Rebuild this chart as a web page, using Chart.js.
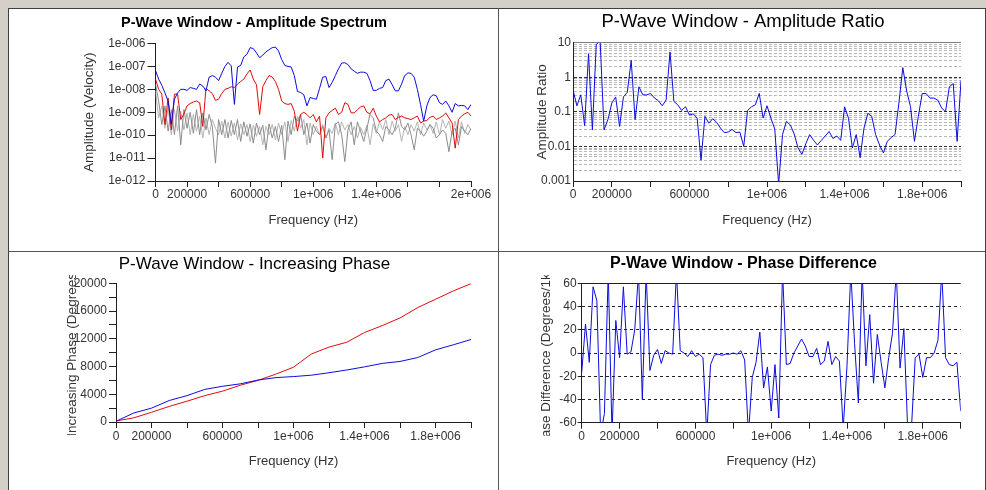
<!DOCTYPE html>
<html>
<head>
<meta charset="utf-8">
<script src="https://cdn.jsdelivr.net/npm/chart.js@4"></script>
<style>
  body { margin: 0; width: 986px; height: 490px; overflow: hidden; position: relative; background: #d4d0c8; }
  #frame { position: absolute; left: 8px; top: 8px; width: 978px; height: 490px; box-sizing: border-box;
           background: #fff; border-top: 1px solid #404040; border-left: 1px solid #404040; border-right: 1px solid #404040; }
  .vline { position: absolute; left: 498px; top: 8px; width: 1px; height: 482px; background: #555; }
  .hline { position: absolute; left: 8px; top: 251px; width: 977px; height: 1px; background: #555; }
  canvas { position: absolute; }
</style>
</head>
<body>
<div id="frame"></div>
<div class="vline"></div>
<div class="hline"></div>
<canvas id="spectrum" width="488" height="242" style="left:9px;top:9px"></canvas>
<canvas id="ratio" width="486" height="242" style="left:499px;top:9px"></canvas>
<canvas id="phase" width="488" height="238" style="left:9px;top:252px"></canvas>
<canvas id="difference" width="486" height="238" style="left:499px;top:252px"></canvas>
<script>
// frequency samples (kHz)
const freqKHz = [0,20,40,60,80,100,120,140,160,180,200,220,240,260,280,300,320,340,360,380,
  400,420,440,460,480,500,520,540,560,580,600,620,640,660,680,700,720,740,760,780,
  800,820,840,860,880,900,920,940,960,980,1000,1020,1040,1060,1080,1100,1120,1140,1160,1180,
  1200,1220,1240,1260,1280,1300,1320,1340,1360,1380,1400,1420,1440,1460,1480,1500,1520,1540,1560,1580,
  1600,1620,1640,1660,1680,1700,1720,1740,1760,1780,1800,1820,1840,1860,1880,1900,1920,1940,1960,1980,2000];

const specBlue = [6.6e-8,2.8e-8,1.5e-8,7e-9,3e-9,3e-10,3.7e-9,7e-9,1e-8,1e-8,
  9e-9,1.2e-8,1.1e-8,1e-8,1.7e-8,1.4e-8,8.6e-9,3.4e-8,4e-8,3.4e-8,
  2.4e-8,5e-8,1e-7,1.5e-7,1.05e-7,2.2e-9,9.4e-8,1.1e-7,2.6e-7,3.4e-7,
  6.6e-7,6e-7,3.9e-7,2.4e-7,3.1e-7,4.3e-7,5.4e-7,6.6e-7,7e-7,4.7e-7,
  2e-7,1.1e-7,1e-7,9.4e-8,4e-8,8e-9,7.3e-9,5.8e-9,1.9e-9,4.4e-9,
  4e-9,3.7e-9,1.1e-8,3.4e-8,3.6e-8,1.2e-8,2e-8,4e-8,7.8e-8,1.4e-7,
  1.45e-7,1.2e-7,7.8e-8,6.2e-8,5e-8,5.6e-8,5.6e-8,5e-8,2.4e-8,9e-9,
  9e-9,1.1e-8,1.2e-8,2.4e-8,2.8e-8,1.6e-8,8.6e-9,8.6e-9,1.7e-8,4e-8,
  5.2e-8,5e-8,3.4e-8,1e-8,2.2e-9,4.1e-10,1.9e-9,4.4e-9,5.8e-9,5.2e-9,
  2.6e-9,2.2e-9,3.1e-9,1.9e-9,1e-9,2.4e-9,1.9e-9,2e-9,1.9e-9,1.3e-9,2.2e-9];

const specRed = [2.8e-8,1e-8,6.2e-9,2.9e-10,4.2e-9,1.7e-10,6.2e-9,6.2e-9,4.8e-10,8.5e-10,
  1.9e-9,2.4e-9,2.8e-9,3.1e-9,2.6e-9,2.4e-10,1.1e-8,8.6e-9,6.6e-9,3.3e-9,
  3.7e-9,6.6e-9,1e-8,1.1e-8,1.3e-8,1.2e-8,1.7e-8,2.2e-8,2.8e-8,4.7e-8,
  7e-8,2.8e-8,1.6e-8,8e-10,1.3e-8,2.4e-8,4e-8,3.4e-8,2.2e-8,1e-8,
  3.1e-9,2.4e-9,2.2e-9,2.4e-9,1.1e-9,1.5e-10,8e-10,1e-9,8e-10,5.7e-10,
  8e-10,3.8e-10,6.8e-10,1e-11,5.7e-10,9.4e-10,1.2e-9,1.5e-9,8e-10,1e-9,
  2.6e-9,2.2e-9,9.4e-10,9.4e-10,1.3e-9,1.7e-9,1.9e-9,1e-9,8.5e-10,1.5e-9,
  6.8e-10,3.8e-10,4.8e-10,5.7e-10,7.5e-10,8e-10,4.8e-10,6e-10,6.8e-10,5.7e-10,
  5.3e-10,4.8e-10,5.7e-10,6.8e-10,3.4e-10,4.1e-10,4.4e-10,6e-10,6.8e-10,4.8e-10,
  5.7e-10,6.8e-10,9.4e-10,5.7e-10,3.4e-10,2.7e-11,4.8e-10,6.8e-10,8.5e-10,1e-9,6.8e-10];

const specGreyA = [1.7e-8,3.1e-9,2.9e-10,1.9e-9,1.5e-10,1.3e-9,1.05e-10,1.9e-9,3.8e-11,1.3e-9,
  2e-10,1e-9,1.2e-10,1.3e-9,1.05e-10,9.4e-10,1.7e-10,8e-10,2.4e-10,6e-12,
  4.8e-10,1.05e-10,4.8e-10,7.5e-11,4.4e-10,1.05e-10,4.8e-10,5.3e-11,3.8e-10,9e-11,
  3.1e-10,4.5e-11,3.4e-10,1.05e-10,2.7e-10,2.3e-11,3.1e-10,7.5e-11,2.4e-10,5.3e-11,
  2.7e-10,8.5e-12,4.1e-10,1.05e-10,6.8e-10,4.1e-10,8e-10,1.05e-10,3.4e-10,4.5e-11,
  2.9e-10,1.5e-10,1.05e-10,2.4e-10,7.5e-11,1.7e-10,8.5e-12,2.9e-10,3.8e-10,1.05e-10,
  7e-12,1.7e-10,3.8e-10,3.8e-11,3.8e-10,1.5e-10,5.3e-11,2e-10,8e-10,5.7e-10,
  1.5e-10,1.05e-10,5.3e-11,2.4e-10,1.7e-10,1.05e-10,2e-10,9.4e-10,2.4e-10,1.7e-10,
  3.4e-10,1.05e-10,2.3e-11,2e-10,1.5e-10,9e-11,1.5e-10,2.9e-10,2e-10,7.5e-11,
  1.05e-10,1.7e-10,1.2e-10,1.9e-11,1.5e-10,2e-10,3.8e-11,2.4e-10,1.5e-10,1.05e-10,2e-10];

const specGreyB = [8.6e-9,5.7e-10,1.9e-9,2e-10,1.6e-9,1.05e-10,1.3e-9,1.5e-10,1.1e-9,1.7e-10,
  9.4e-10,1.05e-10,8e-10,1.5e-10,6.8e-10,7.5e-11,5.7e-10,1.05e-10,4.8e-10,2e-10,
  1.05e-10,4.1e-10,7.5e-11,3.8e-10,9e-11,3.4e-10,6.3e-11,3.1e-10,1.05e-10,2.9e-10,
  5.3e-11,2.7e-10,9e-11,2.4e-10,3.8e-11,2.4e-10,1.05e-10,2.9e-10,6.3e-11,3.4e-10,
  1.05e-10,3.8e-10,5.3e-11,4.4e-10,1.5e-10,6.8e-10,2e-10,4.8e-10,3.8e-11,3.4e-10,
  1.05e-10,2.4e-10,1.05e-10,2.9e-10,7.5e-11,2e-10,1.2e-10,3.4e-10,1.05e-10,3.8e-10,
  1.7e-10,2.9e-10,1.05e-10,2.4e-10,7.5e-11,2.2e-10,1.05e-10,2.7e-10,3.8e-11,3.1e-10,
  1.2e-10,3.8e-10,1.7e-10,4.8e-10,1.05e-10,4.1e-10,1.5e-10,2.9e-10,5.3e-11,2.4e-10,
  1.05e-10,2.9e-10,1.5e-10,3.8e-10,1.05e-10,3.4e-10,1.7e-10,2.9e-10,1.2e-10,3.8e-10,
  1.05e-10,4.8e-10,2e-10,4.1e-10,1.05e-10,4.1e-10,7.5e-11,3.8e-10,1.2e-10,2.9e-10,1.7e-10];

const ampRatio = [0.43,0.15,0.31,0.04,4.8,0.03,9,11,0.03,0.06,
  0.18,0.27,0.038,0.27,0.37,3.1,0.06,0.53,0.31,0.31,
  0.34,0.25,0.21,0.15,0.22,5.4,0.2,0.16,0.11,0.14,
  0.081,0.087,0.066,0.004,0.074,0.047,0.063,0.05,0.034,0.025,
  0.026,0.031,0.025,0.026,0.01,0.11,0.14,0.16,0.34,0.066,
  0.15,0.066,0.032,0.0008,0.022,0.053,0.042,0.023,0.009,0.0059,
  0.012,0.022,0.015,0.011,0.015,0.02,0.027,0.017,0.02,0.015,
  0.14,0.066,0.009,0.022,0.0047,0.034,0.091,0.074,0.022,0.011,
  0.0065,0.014,0.018,0.022,0.18,1.9,0.4,0.14,0.014,0.074,
  0.34,0.34,0.25,0.25,0.22,0.13,0.1,0.53,0.66,0.014,0.8];

const phaseDiff = [-17,25,-8,57,45,-70,-52,70,-70,28,
  -4,57,-1,1,20,70,-40,70,-15,-2,
  3,-9,2,0,-1,70,2,0,-3,2,
  -3,-1,-4,-70,-10,-2,-1,-2,-1,-1,
  0,-1,2,-6,-70,-21,-8,18,-30,-12,
  -50,-10,-56,70,-10,-9,0,6,12,6,
  -3,-3,4,-10,-7,10,-10,-3,-7,-65,
  -11,70,8,-43,70,-11,33,-26,16,-8,
  -30,-4,17,70,-13,21,-65,-65,-4,-1,
  -21,-4,-4,0,11,70,-4,-10,-11,-8,-50];

// increasing phase, sampled every 100 kHz
const phaseKHz = [0,100,200,300,400,500,600,700,800,900,1000,1100,1200,1300,1400,1500,1600,1700,1800,1900,2000];
const phaseRed = [150,600,1400,2250,3000,3800,4450,5300,6000,6900,7900,9800,10800,11500,12900,13900,15000,16500,17700,18900,19950];
const phaseBlue = [100,1300,2000,3100,3800,4700,5150,5500,6050,6400,6550,6750,7100,7500,7950,8450,8730,9300,10400,11130,11900];

// axis ticks
const freqTicks = [0,200000,400000,600000,800000,1000000,1200000,1400000,1600000,1800000,2000000];
const freqLabels = ['0','200000','','600000','','1e+006','','1.4e+006','','1.8e+006',''];
const freqLabelsSpectrum = ['0','200000','','600000','','1e+006','','1.4e+006','','','2e+006'];
const specTicks = [1e-12,1e-11,1e-10,1e-9,1e-8,1e-7,1e-6];
const specTickLabels = ['1e-012','1e-011','1e-010','1e-009','1e-008','1e-007','1e-006'];
const ratioTicks = [0.001,0.01,0.1,1,10];
const ratioTickLabels = ['0.001','0.01','0.1','1','10'];
const phaseTicks = [0,2000,4000,6000,8000,10000,12000,14000,16000,18000,20000];
const phaseTickLabels = ['0','','4000','','8000','','12000','','16000','','20000'];
const diffTicks = [-60,-40,-20,0,20,40,60];
const diffTickLabels = ['-60','-40','-20','0','20','40','60'];

const blue = 'rgb(12,12,222)';
const red = 'rgb(222,12,12)';
const axisColor = '#202020';
const labelColor = '#333333';

Chart.defaults.font.family = '"Liberation Sans", Arial, sans-serif';
Chart.defaults.animation = false;
Chart.defaults.events = [];

// the original clips long y-axis titles near the plot height
const clipYTitle = {
  id: 'clipYTitle',
  afterLayout(chart) {
    const scale = chart.scales.y;
    if (scale.clipPatched) return;
    const drawTitle = scale.drawTitle;
    scale.drawTitle = function () {
      const a = chart.chartArea;
      const ctx = chart.ctx;
      ctx.save();
      ctx.beginPath();
      ctx.rect(0, a.top - 8, a.left, a.bottom - a.top + 21);
      ctx.clip();
      drawTitle.call(this);
      ctx.restore();
    };
    scale.clipPatched = true;
  }
};

function series(xs, ys, color) {
  return {
    data: xs.map((x, i) => ({ x: x * 1000, y: ys[i] })),
    borderColor: color,
    borderWidth: 1,
    pointRadius: 0,
    tension: 0,
    fill: false
  };
}

function isDecade(v) {
  const l = Math.log10(v);
  return Math.abs(l - Math.round(l)) < 1e-9;
}

function freqAxis(labels, height, titlePad, tickPad) {
  return {
    type: 'linear', min: 0, max: 2000000,
    afterBuildTicks: (axis) => { axis.ticks = freqTicks.map(v => ({ value: v })); },
    afterFit: (axis) => { axis.height = height; },
    grid: { drawOnChartArea: false, tickLength: 6, color: axisColor },
    border: { color: axisColor },
    ticks: { autoSkip: false, maxRotation: 0, minRotation: 0, padding: tickPad, color: labelColor,
             font: { size: 12 }, callback: (v, i) => labels[i] },
    title: { display: true, text: 'Frequency (Hz)', color: labelColor, font: { size: 13 },
             padding: { top: 0, bottom: titlePad } }
  };
}

function yTitle(text, offset) {
  return { display: true, text: text, color: labelColor, font: { size: 13.5 }, padding: { top: offset } };
}

function chartTitle(text, size, weight, top, bottom) {
  return { display: true, text: text, color: '#000', font: { size: size, weight: weight },
           padding: { top: top, bottom: bottom } };
}

new Chart(document.getElementById('spectrum'), {
  type: 'line',
  data: {
    datasets: [
      series(freqKHz, specBlue, blue),
      series(freqKHz, specRed, red),
      series(freqKHz, specGreyA, '#8c8c8c'),
      series(freqKHz, specGreyB, '#b4b4b4')
    ]
  },
  options: {
    responsive: false,
    layout: { padding: { left: 28, right: 26, top: 0, bottom: 0 } },
    plugins: {
      legend: { display: false },
      tooltip: { enabled: false },
      title: chartTitle('P-Wave Window - Amplitude Spectrum', 14.5, 'bold', 4.8, 12.3)
    },
    scales: {
      x: freqAxis(freqLabelsSpectrum, 70, 22.9, 0.5),
      y: {
        type: 'logarithmic', min: 1e-12, max: 1e-6,
        afterBuildTicks: (axis) => { axis.ticks = specTicks.map(v => ({ value: v })); },
        afterFit: (axis) => { axis.width = 118.5; },
        grid: { drawOnChartArea: false, tickLength: 8, color: axisColor },
        border: { color: axisColor },
        ticks: { padding: 2, color: labelColor, font: { size: 12 }, callback: (v, i) => specTickLabels[i] },
        title: yTitle('Amplitude (Velocity)', 43.9)
      }
    }
  },
  plugins: [clipYTitle]
});

const ratioGrid = [];
ratioTicks.forEach((d, k) => {
  if (k === ratioTicks.length - 1) { ratioGrid.push(d); return; }
  for (let m = 1; m < 10; m++) ratioGrid.push(d * m);
});

new Chart(document.getElementById('ratio'), {
  type: 'line',
  data: { datasets: [series(freqKHz, ampRatio, blue)] },
  options: {
    responsive: false,
    layout: { padding: { left: 26, right: 24, top: 0, bottom: 0 } },
    plugins: {
      legend: { display: false },
      tooltip: { enabled: false },
      title: chartTitle('P-Wave Window - Amplitude Ratio', 18.5, 'normal', 1.6, 9.9)
    },
    scales: {
      x: freqAxis(freqLabels, 70, 22.9, 0.5),
      y: {
        type: 'logarithmic', min: 0.001, max: 10,
        afterBuildTicks: (axis) => { axis.ticks = ratioGrid.map(v => ({ value: v })); },
        afterFit: (axis) => { axis.width = 48; },
        grid: {
          drawTicks: false,
          color: (ctx) => {
            const v = ctx.tick.value;
            if (v > 9.99) return '#808080';
            return isDecade(v) ? '#303030' : '#b8b8b8';
          }
        },
        border: {
          color: axisColor,
          dash: (ctx) => (ctx.tick && ctx.tick.value < 9.99) ? [3, 2] : []
        },
        ticks: {
          padding: 2, color: labelColor, font: { size: 12 }, autoSkip: false,
          callback: (v) => {
            const k = ratioTicks.findIndex(t => Math.abs(t - v) < t * 1e-6);
            return k >= 0 ? ratioTickLabels[k] : '';
          }
        },
        title: yTitle('Amplitude Ratio', 9.4)
      }
    }
  },
  plugins: [clipYTitle]
});

new Chart(document.getElementById('phase'), {
  type: 'line',
  data: {
    datasets: [
      series(phaseKHz, phaseBlue, blue),
      series(phaseKHz, phaseRed, red)
    ]
  },
  options: {
    responsive: false,
    layout: { padding: { left: 29, right: 26, top: 0, bottom: 0 } },
    plugins: {
      legend: { display: false },
      tooltip: { enabled: false },
      title: chartTitle('P-Wave Window - Increasing Phase', 17, 'normal', 1.8, 9.1)
    },
    scales: {
      x: freqAxis(freqLabels, 68, 21.2, 1),
      y: {
        type: 'linear', min: 0, max: 20000,
        afterBuildTicks: (axis) => { axis.ticks = phaseTicks.map(v => ({ value: v })); },
        afterFit: (axis) => { axis.width = 78; },
        grid: { drawOnChartArea: false, tickLength: 7, color: axisColor },
        border: { color: axisColor },
        ticks: { padding: 2, color: labelColor, font: { size: 12 }, autoSkip: false,
                 callback: (v, i) => phaseTickLabels[i] },
        title: yTitle('Increasing Phase (Degrees)', 26.4)
      }
    }
  },
  plugins: [clipYTitle]
});

new Chart(document.getElementById('difference'), {
  type: 'line',
  data: { datasets: [series(freqKHz, phaseDiff, blue)] },
  options: {
    responsive: false,
    layout: { padding: { left: 27.3, right: 24.3, top: 0, bottom: 0 } },
    plugins: {
      legend: { display: false },
      tooltip: { enabled: false },
      title: chartTitle('P-Wave Window - Phase Difference', 16, 'bold', 2.2, 9.9)
    },
    scales: {
      x: freqAxis(freqLabels, 67.3, 21.2, 0.5),
      y: {
        type: 'linear', min: -60, max: 60,
        afterBuildTicks: (axis) => { axis.ticks = diffTicks.map(v => ({ value: v })); },
        afterFit: (axis) => { axis.width = 55.4; },
        grid: { tickLength: 4, color: '#202020' },
        border: {
          color: axisColor,
          dash: (ctx) => (ctx.tick && ctx.tick.value < 60) ? [3, 3] : []
        },
        ticks: { padding: 1, color: labelColor, font: { size: 12 }, autoSkip: false,
                 callback: (v, i) => diffTickLabels[i] },
        title: yTitle('Phase Difference (Degrees/1kHz)', 12.3)
      }
    }
  },
  plugins: [clipYTitle]
});
</script>
</body>
</html>
